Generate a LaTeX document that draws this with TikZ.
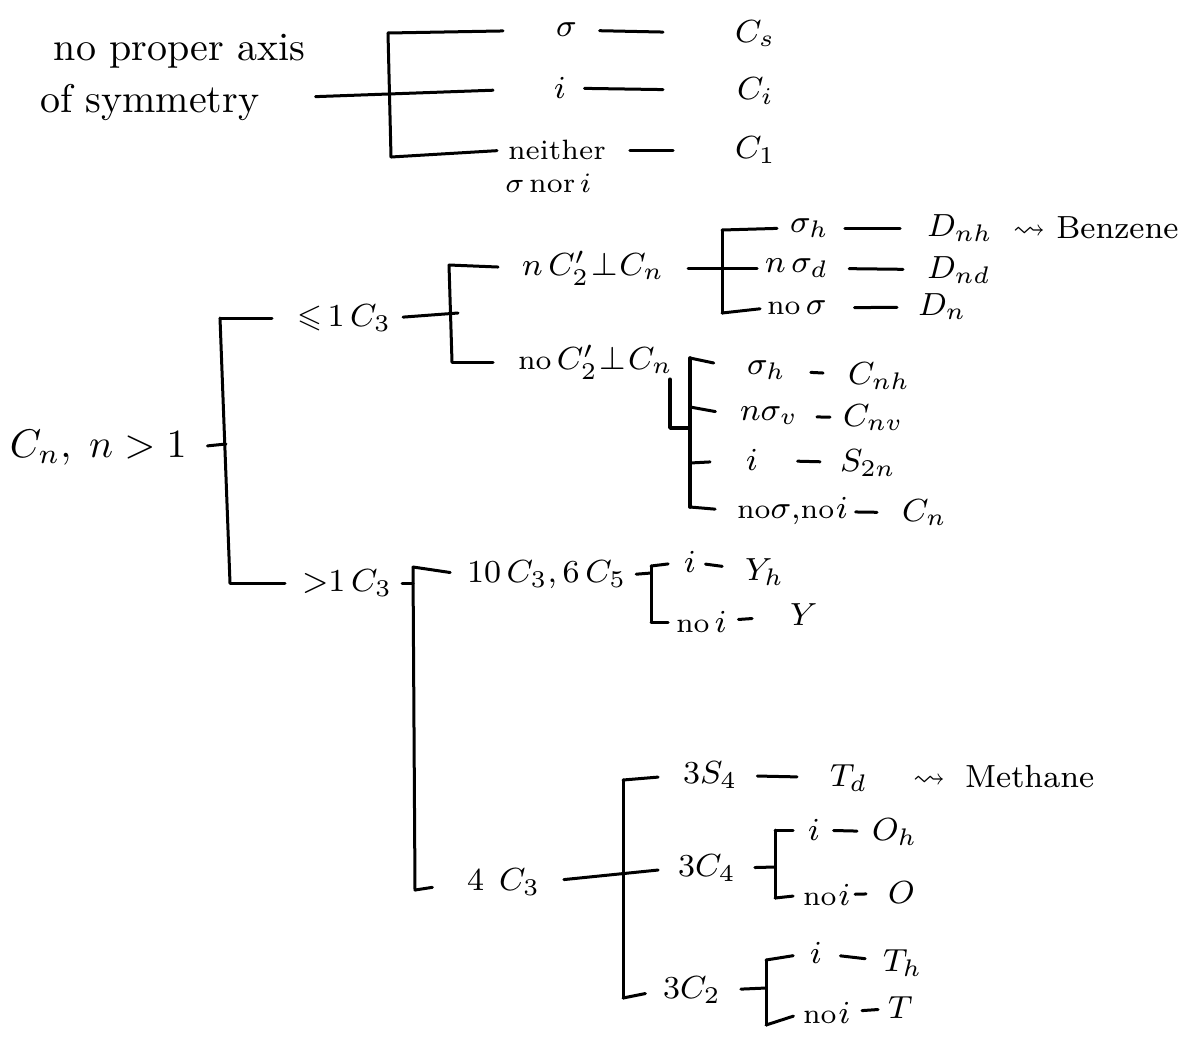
\documentclass[tikz,border=0pt]{standalone}
\usepackage{amsmath,amssymb}
\usetikzlibrary{calc}
\begin{document}
\begin{tikzpicture}[x=0.5pt,y=-0.5pt,line width=1.5pt,line cap=round,line join=round,
  every node/.style={inner sep=0pt,outer sep=0pt},
  lab/.style={font=\fontsize{8}{10}\selectfont,scale=2,anchor=west},
  sm/.style={font=\fontsize{7}{8.5}\selectfont,scale=2,anchor=west},
  hand/.style={font=\fontsize{10}{12}\selectfont,scale=2,anchor=base west},
  big/.style={font=\fontsize{10}{12}\selectfont,scale=2,anchor=west},
  gap/.style 2 args={shorten <=#1pt, shorten >=#2pt}]
\useasboundingbox (0,0) rectangle (1187,1045);
\newcommand{\nw}{{\fontsize{7}{8.5}\selectfont no}}
\newcommand{\pp}{\mkern1mu{\perp}\mkern1mu}

% ---------- top group: no proper axis ----------
\node[hand] (tA1) at (54,60) {no proper axis};
\node[hand] (tA2) at (40,112) {of symmetry};
\node[lab] (sigA) at (556,30) {$\sigma$};
\node[lab] (iA) at (554,88) {$i$};
\node[sm] (neiA) at (508,150) {neither};
\node[sm] (norA) at (505,183) {$\sigma$\,nor\,$i$};
\node[lab] (Cs) at (735,34) {$C_s$};
\node[lab] (Ci) at (737,91) {$C_i$};
\node[lab] (C1) at (735,150) {$C_1$};
\coordinate (sA0) at (307,97);
\coordinate (bAt) at (388,33);
\coordinate (bAb) at (391,157);
\draw (bAt) -- (bAb);
\draw[shorten <=5pt, shorten >=30.5pt] (tA1.east |- sA0) -- (iA.west);
\draw[shorten >=26.5pt] (bAt) -- (sigA.west);
\draw[shorten >=5.5pt] (bAb) -- (neiA.west);
\draw[gap={11.5}{36}] (sigA) -- (Cs);
\draw[gap={9.5}{37}] (iA) -- (Ci);
\draw[gap={12}{31}] (neiA) -- (C1);

% ---------- C_n, n>1 ----------
\node[big] (root) at (10,448) {$C_n,\; n>1$};
\coordinate (mVt) at (220,318);
\coordinate (mVm) at (226,444);
\coordinate (mVb) at (230,583);
\draw (mVt) -- (mVb);
\draw[shorten <=10.5pt] (root.east) -- (mVm);
\node[lab] (le3) at (297,318) {${\leqslant}\,1\,C_3$};
\node[lab] (gt3) at (302,583) {${>}1\,C_3$};
\draw[shorten >=12.5pt] (mVt) -- (le3.west);
\draw[shorten >=8.5pt] (mVb) -- (gt3.west);

% ---------- <=1 C3 ----------
\coordinate (bBt) at (449,265);
\coordinate (bBm) at (458,313);
\coordinate (bBb) at (452,362);
\draw (bBt) -- (bBb);
\draw[shorten <=6pt] (le3.east) -- (bBm);
\node[lab] (nC2) at (522,268) {$n\,C'_2\pp C_n$};
\node[lab] (noC2) at (518,362) {\nw\,$C'_2\pp C_n$};
\draw[shorten >=12pt] (bBt) -- (nC2.west);
\draw[shorten >=12.5pt] (bBb) -- (noC2.west);

% ---------- n C2' perp Cn ----------
\coordinate (bCt) at (722,230);
\coordinate (bCb) at (722,313);
\draw (bCt) -- (bCb);
\node[lab] (sh1) at (790,228) {$\sigma_h$};
\node[lab] (nsd) at (765,268) {$n\,\sigma_d$};
\node[lab] (nos1) at (767,308) {\nw\,$\sigma$};
\node[lab] (Dnh) at (927,228) {$D_{nh}$};
\node[lab] (bz) at (1013,228) {$\rightsquigarrow$ Benzene};
\node[lab] (Dnd) at (927,270) {$D_{nd}$};
\node[lab] (Dn) at (918,307) {$D_n$};
\draw[shorten >=6.5pt] (bCt) -- (sh1.west);
\draw[shorten <=12pt, shorten >=4pt] (nC2.east) -- (nsd.west);
\draw[shorten >=3.5pt] (bCb) -- (nos1.west);
\draw[gap={8}{13.5}] (sh1) -- (Dnh);
\draw[gap={10.5}{12}] (nsd) -- (Dnd);
\draw[gap={14}{10.5}] (nos1) -- (Dn);

% ---------- no C2' perp Cn ----------
\coordinate (bDa) at (670,378);
\coordinate (bDc) at (670,428);
\coordinate (bDt) at (690,358);
\coordinate (bD2) at (690,407);
\coordinate (bDd) at (690,428);
\coordinate (bD3) at (690,463);
\coordinate (bDb) at (690,507);
\draw[line width=1.8pt] (bDa |- noC2.south) -- (bDc) -- (bDd);
\draw[line width=1.8pt] (bDt) -- (bDb);
\node[lab] (sh2) at (747,370) {$\sigma_h$};
\node[lab] (nsv) at (740,416) {$n\sigma_v$};
\node[lab] (i2) at (746,460) {$i$};
\node[lab] (nn) at (737,511) {\nw$\sigma$,\nw$\mkern1mu i$};
\node[lab] (Cnh) at (848,376) {$C_{nh}$};
\node[lab] (Cnv) at (843,418) {$C_{nv}$};
\node[lab] (S2n) at (840,463) {$S_{2n}$};
\node[lab] (Cn2) at (902,513) {$C_n$};
\draw[shorten >=17pt] (bDt) -- (sh2.west);
\draw[shorten >=12.5pt] (bD2) -- (nsv.west);
\draw[shorten >=18pt] (bD3) -- (i2.west);
\draw[shorten >=11pt] (bDb) -- (nn.west);
\draw[gap={12.5}{12.5}] (sh2) -- (Cnh);
\draw[gap={9.5}{6.5}] (nsv) -- (Cnv);
\draw[gap={20}{10}] (i2) -- (S2n);
\draw[gap={4}{12.5}] (nn) -- (Cn2);

% ---------- >1 C3 ----------
\coordinate (bEt) at (413,567);
\coordinate (bEm) at (413,583);
\coordinate (bEb) at (415,890);
\draw (bEt) -- (bEb);
\draw[shorten <=5pt] (gt3.east) -- (bEm);
\node[lab] (ico) at (467,575) {$10\,C_3,6\,C_5$};
\node[lab] (fc3) at (467,882) {$4\;\,C_3$};
\draw[shorten >=8.5pt] (bEt) -- (ico.west);
\draw[shorten >=17.5pt] (bEb) -- (fc3.west);

% ---------- 10 C3, 6 C5 ----------
\coordinate (bFt) at (651,566);
\coordinate (bFm) at (651,573);
\coordinate (bFb) at (651,622);
\draw (bFt) -- (bFb);
\draw[shorten <=5pt] (ico.east) -- (bFm);
\node[lab] (i3) at (684,562) {$i$};
\node[lab] (noi3) at (676,622) {\nw\,$i$};
\node[lab] (Yh) at (745,572) {$Y_h$};
\node[lab] (Y) at (790,615) {$Y$};
\draw[shorten >=8pt] (bFt) -- (i3.west);
\draw[shorten >=4pt] (bFb) -- (noi3.west);
\draw[gap={5}{11.5}] (i3) -- (Yh);
\draw[gap={6}{19}] (noi3) -- (Y);

% ---------- 4 C3 ----------
\coordinate (bGt) at (623,780);
\coordinate (bGb) at (623,998);
\draw (bGt) -- (bGb);
\node[lab] (s4) at (683,775) {$3S_4$};
\node[lab] (c4) at (678,868) {$3C_4$};
\node[lab] (c2) at (663,990) {$3C_2$};
\node[lab] (Td) at (830,778) {$T_d$};
\node[lab] (me) at (913,777) {$\rightsquigarrow$\hspace{5pt}Methane};
\draw[shorten <=12pt, shorten >=10pt] (fc3.east) -- (c4.west);
\draw[shorten >=12.5pt] (bGt) -- (s4.west);
\draw[shorten >=9pt] (bGb) -- (c2.west);
\draw[gap={10}{16.5}] (s4) -- (Td);

% ---------- 3 C4 ----------
\coordinate (bHt) at (775,830);
\coordinate (bHm) at (775,867);
\coordinate (bHb) at (775,898);
\draw (bHt) -- (bHb);
\draw[shorten <=9.5pt] (c4.east) -- (bHm);
\node[lab] (i4) at (808,830) {$i$};
\node[lab] (noi4) at (803,895) {\nw$\mkern1mu i$};
\node[lab] (Oh) at (872,832) {$O_h$};
\node[lab] (O) at (888,893) {$O$};
\draw[shorten >=7.5pt] (bHt) -- (i4.west);
\draw[shorten >=5pt] (bHb) -- (noi4.west);
\draw[gap={7}{7.5}] (i4) -- (Oh);
\draw[gap={2.5}{11}] (noi4) -- (O);

% ---------- 3 C2 ----------
\coordinate (bJt) at (766,960);
\coordinate (bJm) at (766,988);
\coordinate (bJb) at (766,1025);
\draw (bJt) -- (bJb);
\draw[shorten <=10pt] (c2.east) -- (bJm);
\node[lab] (i5) at (810,953) {$i$};
\node[lab] (noi5) at (803,1013) {\nw$\mkern1mu i$};
\node[lab] (Th) at (883,963) {$T_h$};
\node[lab] (T) at (888,1008) {$T$};
\draw[shorten >=8.5pt] (bJt) -- (i5.west);
\draw[shorten >=5pt] (bJb) -- (noi5.west);
\draw[gap={9.5}{9}] (i5) -- (Th);
\draw[gap={6}{5}] (noi5) -- (T);
\end{tikzpicture}
\end{document}
